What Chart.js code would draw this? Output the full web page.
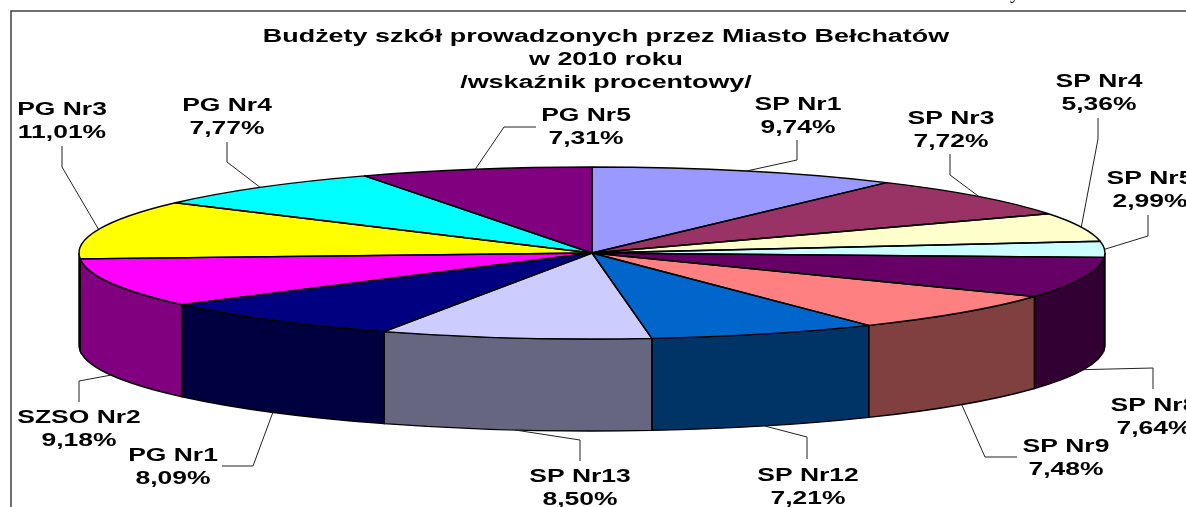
<!DOCTYPE html>
<html>
<head>
<meta charset="utf-8">
<style>html,body{margin:0;padding:0;background:#fff;overflow:hidden}canvas{display:block}</style>
<script src="https://cdn.jsdelivr.net/npm/chart.js@4"></script>
</head>
<body>
<canvas id="c" width="1186" height="507"></canvas>
<script>
const schools = ['SP Nr1','SP Nr3','SP Nr4','SP Nr5','SP Nr8','SP Nr9','SP Nr12','SP Nr13','PG Nr1','SZSO Nr2','PG Nr3','PG Nr4','PG Nr5'];
const shares = [9.74,7.72,5.36,2.99,7.64,7.48,7.21,8.50,8.09,9.18,11.01,7.77,7.31];
const topColors = ['#9999FF','#993366','#FFFFCC','#CCFFFF','#660066','#FF8080','#0066CC','#CCCCFF','#000080','#FF00FF','#FFFF00','#00FFFF','#800080'];
const sideColors = ['#4D4D80','#4D1A33','#808066','#668080','#330033','#804040','#003366','#666680','#000040','#800080','#808000','#008080','#400040'];
const titleLines = ['Budżety szkół prowadzonych przez Miasto Bełchatów','w 2010 roku','/wskaźnik procentowy/'];

// Layout of the page (not data)
const PIE = {cx:592, cy:253, a:513, b:86, depth:92};
const FONT = 'Liberation Sans';
const STRETCH = 1.47;
const TITLE_STRETCH = 1.495;
const TITLE_CX = 606;
const LABEL_DY = 1.5, LABEL_LINE = 22.5;
// label centre x, first line centre y, elbow [x,y], leader end [x,y], leader starts on wall?
const labelLayout = [
 {x:798,y:104,e:[797,160],t:[797,140],w:false},
 {x:951,y:118,e:[950,175],t:[950,154],w:false},
 {x:1099,y:81,e:[1098,139],t:[1098,118],w:false},
 {x:1150,y:178,e:[1148,236],t:[1148,215],w:false},
 {x:1154,y:405,e:[1153,368],t:[1153,389],w:true},
 {x:1066,y:446,e:[985,457],t:[1017,457],w:true},
 {x:808,y:475,e:[807,437],t:[807,459],w:true},
 {x:580,y:476,e:[580,440],t:[580,461],w:true},
 {x:173,y:455,e:[253,466],t:[222,466],w:true},
 {x:79,y:417,e:[79,381],t:[79,402],w:true},
 {x:62,y:109,e:[62,167],t:[62,146],w:false},
 {x:227,y:105,e:[227,162],t:[227,142],w:false},
 {x:586,y:115,e:[504,127],t:[536,127],w:false}
];

const pie3d = {
  id:'pie3d',
  beforeDraw(chart){
    const ctx = chart.ctx;
    ctx.save();
    ctx.fillStyle='#fff'; ctx.fillRect(0,0,1186,507);
    ctx.strokeStyle='#404040'; ctx.lineWidth=1.5;
    ctx.beginPath(); ctx.moveTo(1186,11); ctx.lineTo(11,11); ctx.lineTo(11,507); ctx.stroke();
    ctx.fillStyle='#000'; ctx.font='20px "Liberation Serif"'; ctx.textAlign='left'; ctx.textBaseline='alphabetic';
    ctx.fillText('y',1010,-2);
    ctx.restore();
    // stretch the library's title horizontally
    ctx.save();
    const mid = (chart.chartArea.left+chart.chartArea.right)/2;
    ctx.translate(TITLE_CX,0); ctx.scale(TITLE_STRETCH,1); ctx.translate(-mid,0);
  },
  beforeDatasetsDraw(chart){
    const ctx = chart.ctx;
    ctx.restore();
    const arcs = chart.getDatasetMeta(0).data;
    // side walls
    arcs.forEach((arc,i)=>{
      const s = Math.max(arc.startAngle,0), e = Math.min(arc.endAngle,Math.PI);
      if(e<=s) return;
      ctx.beginPath();
      ctx.ellipse(PIE.cx,PIE.cy,PIE.a,PIE.b,0,s,e);
      ctx.ellipse(PIE.cx,PIE.cy+PIE.depth,PIE.a,PIE.b,0,e,s,true);
      ctx.closePath();
      ctx.fillStyle = sideColors[i];
      ctx.fill();
      ctx.strokeStyle='#000'; ctx.lineWidth=1.4; ctx.stroke();
    });
    // squash the library's pie to an ellipse
    const a0 = arcs[0];
    ctx.save();
    ctx.translate(PIE.cx,PIE.cy);
    ctx.scale(PIE.a/a0.outerRadius,PIE.b/a0.outerRadius);
    ctx.translate(-a0.x,-a0.y);
  },
  afterDatasetsDraw(chart){
    const ctx = chart.ctx;
    ctx.restore();
    const arcs = chart.getDatasetMeta(0).data;
    ctx.strokeStyle='#000'; ctx.lineWidth=1.4; ctx.lineJoin='round';
    arcs.forEach(arc=>{
      ctx.beginPath();
      ctx.moveTo(PIE.cx,PIE.cy);
      ctx.ellipse(PIE.cx,PIE.cy,PIE.a,PIE.b,0,arc.startAngle,arc.endAngle);
      ctx.closePath();
      ctx.stroke();
    });
    arcs.forEach((arc,i)=>{
      const L = labelLayout[i], m = (arc.startAngle+arc.endAngle)/2;
      const ax = PIE.cx+PIE.a*Math.cos(m), ay = PIE.cy+PIE.b*Math.sin(m)+(L.w?PIE.depth:0);
      ctx.beginPath(); ctx.moveTo(ax,ay); ctx.lineTo(L.e[0],L.e[1]); ctx.lineTo(L.t[0],L.t[1]);
      ctx.strokeStyle='#222'; ctx.lineWidth=1; ctx.stroke();
      const lines = [chart.data.labels[i], chart.data.datasets[0].data[i].toFixed(2).replace('.',',')+'%'];
      ctx.save();
      ctx.font='bold 18px "'+FONT+'"'; ctx.fillStyle='#000'; ctx.textAlign='center'; ctx.textBaseline='middle';
      lines.forEach((t,k)=>{
        ctx.save();
        ctx.translate(L.x,L.y+LABEL_DY+k*LABEL_LINE);
        ctx.scale(STRETCH,1);
        ctx.fillText(t,0,0);
        ctx.restore();
      });
      ctx.restore();
    });
  }
};

new Chart(document.getElementById('c'),{
  type:'pie',
  data:{labels:schools,datasets:[{data:shares,backgroundColor:topColors,borderWidth:0}]},
  options:{
    responsive:false,animation:false,
    events:[],
    layout:{padding:0},
    plugins:{
      legend:{display:false},tooltip:{enabled:false},
      title:{display:true,text:titleLines,color:'#000',align:'center',
        font:{family:FONT,size:18,weight:'bold',lineHeight:1.3},
        padding:{top:25,bottom:0}}
    }
  },
  plugins:[pie3d]
});
</script>
</body>
</html>
